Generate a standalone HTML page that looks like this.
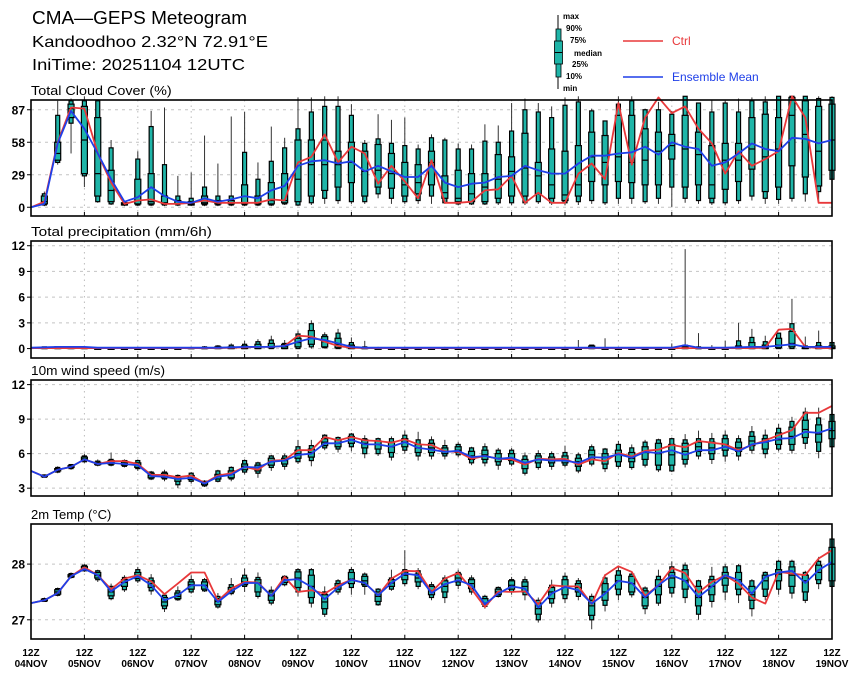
<!DOCTYPE html>
<html><head><meta charset="utf-8"><style>
html,body{margin:0;padding:0;background:#fff;}
svg{display:block;font-family:"Liberation Sans",sans-serif;}
</style></head><body>
<svg id="chart" width="860" height="678" viewBox="0 0 860 678">
<text x="32" y="24" font-size="18" textLength="215" lengthAdjust="spacingAndGlyphs">CMA—GEPS Meteogram</text>
<text x="32" y="47" font-size="16" textLength="236" lengthAdjust="spacingAndGlyphs">Kandoodhoo 2.32°N 72.91°E</text>
<text x="32" y="70" font-size="16" textLength="213" lengthAdjust="spacingAndGlyphs">IniTime: 20251104 12UTC</text>
<g id="legend">
<line x1="558" y1="15" x2="558" y2="89" stroke="#000" stroke-width="1"/>
<rect x="556" y="29" width="5" height="48" fill="#1fb5a8" stroke="#000" stroke-width="0.8"/>
<rect x="554.5" y="41" width="8" height="23" fill="#1fb5a8" stroke="#000" stroke-width="0.8"/>
<line x1="554.5" y1="52.5" x2="562.5" y2="52.5" stroke="#000"/>
<g font-size="8" font-weight="bold">
<text x="563" y="19">max</text><text x="566" y="31">90%</text><text x="570" y="43">75%</text><text x="574" y="56">median</text><text x="572" y="67">25%</text><text x="566" y="79">10%</text><text x="563" y="91">min</text>
</g>
<line x1="623" y1="41" x2="663" y2="41" stroke="#e8383a" stroke-width="1.5"/>
<text x="672" y="45" font-size="12" fill="#e8383a">Ctrl</text>
<line x1="623" y1="77" x2="663" y2="77" stroke="#1f3fe8" stroke-width="1.5"/>
<text x="672" y="81" font-size="12" fill="#1f3fe8">Ensemble Mean</text>
</g>
</svg>
<script>
const dayLabels = ["04NOV","05NOV","06NOV","07NOV","08NOV","09NOV","10NOV","11NOV","12NOV","13NOV","14NOV","15NOV","16NOV","17NOV","18NOV","19NOV"];
const cloudTicks = [0,29,58,87];
const precipTicks = [0,3,6,9,12];
const windTicks = [3,6,9,12];
const tempTicks = [27,28];

const cloudCtrl = [0,5,58,89,88,48,22,3,6,7,3,3,4,6,4,4,4,4,7,6,40,45,65,40,54,48,21,37,23,8,42,4,4,5,15,16,28,4,13,4,4,30,39,25,93,38,80,98,84,90,70,57,30,50,37,43,50,99,80,4,4];
const cloudMean = [0,3,57,86,70,48,25,5,9,18,10,5,4,8,5,7,10,8,15,19,37,41,42,39,41,32,37,32,27,27,37,22,18,21,22,27,28,37,33,30,30,39,46,46,48,49,54,47,58,54,52,37,40,48,57,52,50,62,61,57,60];
const cloudBoxes = [null,
[1,2,3,5,10,12,14],[38,40,42,48,58,82,95],[48,75,80,88,92,95,97],[18,28,30,60,90,95,99],[4,5,10,30,80,95,96],
[2,3,5,15,33,53,60],[1,2,2,3,4,4,5],[1,2,3,6,25,43,50],[1,2,3,5,30,72,86],[1,2,3,4,10,38,89],
[1,2,3,3,6,10,28],[1,2,2,3,5,8,31],[1,2,3,4,10,18,64],[1,2,3,4,6,10,39],[1,2,3,4,6,10,81],
[1,2,3,4,20,49,85],[1,2,3,4,10,25,40],[1,2,3,6,22,41,72],[2,3,4,6,30,53,62],[1,2,5,25,60,70,98],
[2,4,10,38,60,85,98],[3,8,15,38,60,90,99],[3,6,18,38,50,90,99],[3,5,22,40,58,82,92],[3,5,10,32,50,57,60],
[8,12,18,33,56,61,83],[3,8,17,30,48,57,78],[3,5,10,20,40,55,80],[3,6,12,22,38,52,56],[3,10,20,40,50,62,65],
[3,4,8,13,28,60,62],[2,3,5,8,33,52,57],[2,3,5,12,30,52,56],[2,3,5,18,30,59,74],[2,4,8,25,47,58,73],
[2,4,10,32,45,68,93],[2,4,10,35,66,87,97],[3,5,12,28,40,85,93],[2,4,8,20,52,80,90],[2,4,6,11,50,91,98],
[2,5,10,20,55,94,99],[3,6,23,45,67,86,88],[2,4,20,40,64,77,77],[3,8,23,45,82,92,99],[3,8,22,40,82,95,99],
[3,5,20,42,70,87,88],[3,8,20,50,67,87,94],[0,18,43,55,65,83,86],[4,8,18,52,82,99,99],[3,6,20,47,67,93,93],
[2,4,8,20,55,85,96],[2,4,16,42,57,93,95],[3,6,23,42,57,85,97],[6,10,34,52,80,95,98],[3,8,14,45,83,94,99],
[3,7,18,52,80,99,99],[5,8,37,82,98,99,99],[5,12,27,65,95,99,99],[5,14,19,50,90,97,99],[20,25,33,60,92,98,99]];

const precipCtrl = [0.05,0.05,0.05,0.05,0.05,0.05,0.05,0.05,0.05,0.05,0.05,0.05,0.05,0.05,0.05,0.1,0.15,0.2,0.2,0.3,1.5,1.4,0.8,0.3,0.1,0.05,0.05,0.05,0.05,0.05,0.05,0.05,0.05,0.05,0.05,0.05,0.05,0.05,0.05,0.05,0.05,0.05,0.05,0.05,0.05,0.05,0.05,0.05,0.05,0.05,0.05,0.05,0.05,0.05,0.05,0.1,2.2,2.3,0.2,0.05,0.05];
const precipMean = [0.1,0.15,0.2,0.2,0.2,0.1,0.1,0.1,0.1,0.1,0.1,0.1,0.1,0.1,0.1,0.15,0.2,0.2,0.2,0.3,0.8,1.2,1.0,0.6,0.2,0.1,0.1,0.1,0.1,0.1,0.1,0.1,0.1,0.1,0.1,0.1,0.1,0.1,0.1,0.1,0.1,0.1,0.1,0.1,0.1,0.1,0.1,0.1,0.1,0.4,0.1,0.1,0.1,0.15,0.2,0.2,0.35,0.5,0.2,0.2,0.2];
const precipBoxes = [null,
[0,0,0,0.1,0.1,0.2,0.2],[0,0,0,0.1,0.2,0.2,0.3],[0,0,0,0.1,0.1,0.2,0.2],[0,0,0,0.1,0.1,0.1,0.2],[0,0,0,0,0,0.1,0.1],
[0,0,0,0,0,0,0.1],[0,0,0,0,0,0,0.1],[0,0,0,0,0,0,0.1],[0,0,0,0,0,0,0.1],[0,0,0,0,0,0,0.1],
[0,0,0,0,0,0.1,0.1],[0,0,0,0,0.1,0.1,0.2],[0,0,0,0,0.1,0.2,0.3],[0,0,0,0.1,0.2,0.3,0.4],[0,0,0,0.1,0.2,0.4,0.6],
[0,0,0,0.1,0.3,0.5,0.9],[0,0,0,0.2,0.5,0.8,1.1],[0,0,0.1,0.2,0.6,1.0,1.5],[0,0,0,0.2,0.5,0.6,1.0],[0,0,0.2,0.7,1.2,1.7,2.1],
[0,0.2,0.5,1.3,2.1,2.9,3.3],[0,0.1,0.2,0.8,1.4,1.6,1.9],[0,0,0.1,0.5,1.2,1.8,2.3],[0,0,0,0.1,0.4,0.7,1.3],[0,0,0,0,0.1,0.2,0.9],
[0,0,0,0,0,0.1,0.2],[0,0,0,0,0,0,0.1],[0,0,0,0,0,0,0.1],[0,0,0,0,0,0,0.1],[0,0,0,0,0,0,0.1],
[0,0,0,0,0,0,0.2],[0,0,0,0,0,0,0.1],[0,0,0,0,0,0,0.1],[0,0,0,0,0,0,0.1],[0,0,0,0,0,0,0.1],
[0,0,0,0,0,0,0.1],[0,0,0,0,0,0,0.1],[0,0,0,0,0,0,0.1],[0,0,0,0,0,0,0.1],[0,0,0,0,0,0,0.1],
[0,0,0,0,0,0.1,1.0],[0,0,0,0.1,0.3,0.4,0.4],[0,0,0,0,0,0.1,1.2],[0,0,0,0,0,0,0.1],[0,0,0,0,0,0,0.1],
[0,0,0,0,0,0,0.1],[0,0,0,0,0,0,0.1],[0,0,0,0,0,0.1,0.6],[0,0,0,0.1,0.2,0.4,11.6],[0,0,0,0,0.1,0.2,1.8],
[0,0,0,0,0,0.1,0.4],[0,0,0,0,0,0.1,0.9],[0,0,0,0.1,0.3,0.9,3.0],[0,0,0,0.2,0.7,1.3,2.3],[0,0,0,0.1,0.4,0.8,1.5],
[0,0,0.1,0.4,1.2,1.8,1.8],[0,0,0.2,0.6,2.0,2.9,5.8],[0,0,0,0.1,0.2,0.3,1.4],[0,0,0,0.1,0.3,0.7,2.1],[0,0,0,0.1,0.3,0.7,0.7]];

const windCtrl = [4.5,4.0,4.6,4.85,5.5,5.1,5.35,5.35,5.1,4.15,4.15,3.95,4.1,3.45,4.1,4.3,4.85,4.6,5.4,5.45,6.3,6.3,7.45,7.15,7.45,7.15,7.1,6.95,7.25,6.8,6.75,6.2,6.15,5.55,5.8,5.55,5.5,5.05,5.55,5.5,5.55,5.05,5.5,5.35,6.05,5.75,6.25,6.35,6.75,6.55,7.1,6.95,6.8,6.3,6.75,7.15,7.6,8.05,9.55,9.55,10.15];
const windMean = [4.5,4.0,4.6,4.85,5.5,5.1,5.2,5.1,5.0,4.05,4.0,3.8,3.9,3.4,4.0,4.15,4.85,4.8,5.3,5.4,5.9,6.0,6.9,6.9,7.2,6.8,6.8,6.6,7.0,6.5,6.35,6.15,6.25,5.7,5.8,5.55,5.65,5.2,5.5,5.4,5.4,5.2,5.7,5.65,5.95,5.65,6.15,6.05,6.3,5.9,6.3,6.3,6.6,6.2,6.8,7.0,7.3,7.35,7.9,7.8,8.2];
const windBoxes = [null,
[3.9,3.95,4.0,4.05,4.1,4.15,4.2],[4.3,4.4,4.5,4.6,4.7,4.8,4.9],[4.6,4.7,4.8,4.85,4.95,5.05,5.1],[5.2,5.3,5.4,5.55,5.7,5.8,6.0],[4.9,5.0,5.05,5.15,5.25,5.35,5.5],
[4.9,5.0,5.1,5.3,5.4,5.5,6.1],[4.8,4.9,5.0,5.2,5.35,5.4,5.5],[4.5,4.7,4.8,5.0,5.2,5.4,5.5],[3.7,3.8,3.9,4.1,4.3,4.4,4.5],[3.6,3.8,3.9,4.1,4.3,4.4,4.6],
[3.0,3.3,3.6,3.8,4.0,4.1,4.2],[3.4,3.6,3.75,3.9,4.1,4.3,4.4],[3.1,3.2,3.3,3.45,3.55,3.6,3.7],[3.5,3.6,3.8,4.0,4.2,4.5,4.6],[3.6,3.8,3.9,4.2,4.5,4.8,4.9],
[4.2,4.4,4.6,4.9,5.1,5.4,5.5],[3.9,4.3,4.5,4.8,5.0,5.2,5.3],[4.5,4.8,5.0,5.3,5.6,5.8,5.9],[4.6,4.9,5.1,5.4,5.6,5.8,6.0],[5.1,5.3,5.6,6.0,6.3,6.6,7.2],
[4.9,5.4,5.7,6.1,6.4,6.7,7.2],[6.3,6.5,6.7,7.0,7.3,7.6,7.7],[6.1,6.4,6.6,6.9,7.2,7.4,7.5],[6.2,6.6,6.9,7.2,7.5,7.7,7.8],[5.6,6.0,6.5,6.9,7.2,7.3,7.6],
[5.8,6.0,6.4,6.8,7.1,7.3,7.4],[5.4,5.7,6.1,6.6,7.0,7.3,7.5],[6.0,6.3,6.6,7.0,7.3,7.6,8.0],[5.4,5.8,6.1,6.5,6.8,7.2,7.9],[5.5,5.8,6.1,6.5,6.9,7.2,7.5],
[5.5,5.8,6.0,6.2,6.5,6.7,7.2],[5.7,5.9,6.1,6.3,6.6,6.8,7.0],[5.0,5.2,5.5,5.8,6.2,6.5,6.6],[4.9,5.2,5.5,5.9,6.3,6.6,6.9],[4.6,5.0,5.3,5.6,6.0,6.3,6.5],
[4.9,5.1,5.4,5.6,6.0,6.3,6.5],[4.1,4.3,4.7,5.1,5.5,5.8,6.1],[4.6,4.8,5.2,5.5,5.8,6.0,6.3],[4.6,4.9,5.2,5.4,5.7,6.0,6.2],[4.8,5.0,5.2,5.5,5.8,6.1,6.7],
[4.3,4.5,4.9,5.3,5.6,5.9,6.1],[4.9,5.1,5.5,5.9,6.3,6.6,6.8],[4.4,4.7,5.1,5.7,6.0,6.4,6.5],[4.7,4.9,5.3,6.0,6.3,6.8,7.1],[4.6,4.8,5.3,5.6,6.1,6.5,6.8],
[4.8,5.0,5.5,6.1,6.6,7.0,7.2],[4.4,4.6,5.0,6.0,6.9,7.2,7.3],[4.4,4.5,5.0,5.9,6.8,7.3,7.4],[4.8,5.1,5.5,6.2,6.9,7.2,7.7],[5.5,5.8,6.2,6.6,7.0,7.3,8.0],
[5.1,5.5,6.0,6.5,7.0,7.3,7.8],[5.3,5.8,6.3,6.8,7.3,7.6,8.0],[5.4,5.8,6.2,6.5,7.0,7.3,7.6],[6.0,6.3,6.7,7.1,7.5,7.9,8.4],[5.6,6.0,6.4,7.0,7.3,7.6,8.1],
[6.2,6.4,6.8,7.2,7.8,8.2,8.6],[6.0,6.3,6.8,7.5,8.3,8.8,9.2],[6.4,6.9,7.4,8.1,8.9,9.6,10.0],[5.6,6.2,7.0,7.7,8.5,9.1,10.0],[6.2,6.6,7.3,8.0,8.8,9.4,10.1]];

const tempCtrl = [27.3,27.35,27.48,27.78,27.94,27.8,27.55,27.74,27.8,27.69,27.46,27.65,27.85,27.85,27.34,27.56,27.68,27.67,27.43,27.77,27.5,27.53,27.47,27.62,27.72,27.66,27.44,27.74,27.88,27.87,27.5,27.74,27.84,27.55,27.23,27.51,27.5,27.51,27.28,27.62,27.6,27.6,27.28,27.8,27.96,27.86,27.43,27.62,27.93,27.84,27.49,27.68,27.8,27.65,27.4,27.29,27.86,27.83,27.8,28.1,28.25];
const tempMean = [27.3,27.35,27.48,27.78,27.91,27.8,27.51,27.68,27.78,27.62,27.35,27.44,27.62,27.62,27.32,27.51,27.66,27.66,27.43,27.71,27.73,27.59,27.37,27.58,27.72,27.66,27.44,27.66,27.83,27.8,27.48,27.64,27.71,27.62,27.28,27.47,27.6,27.56,27.22,27.47,27.59,27.53,27.29,27.47,27.7,27.66,27.4,27.62,27.8,27.7,27.41,27.6,27.8,27.71,27.47,27.77,27.85,27.88,27.66,27.89,28.04];
const tempBoxes = [null,
[27.32,27.33,27.34,27.35,27.37,27.38,27.4],[27.42,27.44,27.46,27.5,27.54,27.56,27.58],[27.74,27.76,27.77,27.79,27.81,27.83,27.85],[27.86,27.88,27.9,27.93,27.96,27.98,28.0],[27.68,27.72,27.75,27.8,27.85,27.88,27.9],
[27.35,27.38,27.43,27.5,27.57,27.6,27.65],[27.5,27.54,27.6,27.67,27.72,27.76,27.8],[27.66,27.7,27.74,27.8,27.85,27.9,27.95],[27.45,27.52,27.58,27.65,27.7,27.75,27.82],[27.14,27.2,27.25,27.32,27.4,27.44,27.47],
[27.34,27.36,27.38,27.42,27.48,27.52,27.6],[27.47,27.5,27.55,27.63,27.68,27.72,27.8],[27.5,27.52,27.55,27.62,27.68,27.72,27.75],[27.2,27.23,27.27,27.33,27.38,27.42,27.48],[27.44,27.47,27.5,27.53,27.58,27.63,27.75],
[27.5,27.6,27.63,27.68,27.75,27.8,27.92],[27.38,27.42,27.5,27.66,27.72,27.76,27.85],[27.26,27.3,27.35,27.43,27.5,27.53,27.6],[27.6,27.63,27.67,27.72,27.76,27.78,27.8],[27.42,27.5,27.58,27.75,27.86,27.9,27.93],
[27.22,27.3,27.4,27.6,27.8,27.9,27.93],[27.05,27.1,27.2,27.32,27.45,27.5,27.6],[27.45,27.5,27.55,27.6,27.65,27.7,27.73],[27.45,27.58,27.65,27.73,27.85,27.9,27.95],[27.45,27.6,27.63,27.7,27.78,27.82,27.85],
[27.25,27.27,27.33,27.42,27.5,27.55,27.57],[27.52,27.55,27.6,27.66,27.72,27.75,27.9],[27.6,27.65,27.72,27.8,27.86,27.9,28.25],[27.55,27.6,27.68,27.75,27.82,27.88,27.93],[27.35,27.4,27.45,27.52,27.6,27.63,27.68],
[27.3,27.4,27.5,27.6,27.7,27.75,27.8],[27.55,27.62,27.68,27.75,27.82,27.85,27.9],[27.45,27.5,27.56,27.65,27.72,27.75,27.8],[27.2,27.24,27.28,27.3,27.38,27.42,27.45],[27.4,27.42,27.45,27.5,27.55,27.58,27.6],
[27.45,27.5,27.55,27.62,27.7,27.72,27.77],[27.35,27.45,27.5,27.6,27.68,27.72,27.78],[26.95,27.0,27.1,27.2,27.3,27.35,27.4],[27.22,27.3,27.38,27.5,27.58,27.62,27.72],[27.3,27.38,27.45,27.6,27.72,27.78,27.85],
[27.35,27.42,27.5,27.58,27.65,27.7,27.75],[26.83,27.0,27.08,27.25,27.35,27.42,27.47],[27.15,27.26,27.35,27.5,27.65,27.75,27.82],[27.35,27.45,27.55,27.7,27.8,27.88,27.95],[27.4,27.45,27.5,27.65,27.78,27.82,27.85],
[27.1,27.2,27.25,27.4,27.52,27.57,27.6],[27.25,27.3,27.45,27.6,27.72,27.78,27.9],[27.4,27.48,27.58,27.75,27.85,27.95,28.05],[27.3,27.4,27.55,27.7,27.9,27.98,28.03],[27.0,27.1,27.25,27.4,27.6,27.7,27.72],
[27.22,27.33,27.45,27.6,27.72,27.78,27.95],[27.35,27.5,27.62,27.75,27.85,27.95,28.0],[27.3,27.45,27.55,27.72,27.85,27.97,28.0],[27.06,27.2,27.35,27.45,27.6,27.7,27.73],[27.35,27.42,27.55,27.7,27.8,27.85,27.87],
[27.45,27.55,27.7,27.82,27.9,28.05,28.08],[27.38,27.48,27.6,27.8,27.95,28.05,28.08],[27.3,27.35,27.5,27.7,27.8,27.85,27.88],[27.55,27.65,27.72,27.85,27.98,28.05,28.13],[27.55,27.6,27.7,28.0,28.3,28.45,28.5]];

const NS = "http://www.w3.org/2000/svg";
const svg = document.getElementById("chart");
const X0 = 31, X1 = 832, NSTEP = 60;
function xScale(i){ return X0 + (X1 - X0) * i / NSTEP; }
function mk(tag, attrs, parent){
  const e = document.createElementNS(NS, tag);
  for (const k in attrs) e.setAttribute(k, attrs[k]);
  (parent || svg).appendChild(e);
  return e;
}

const panels = [
  {key:"cloud", title:"Total Cloud Cover (%)", top:100, bottom:216, vTop:95.7, vBot:-7.8, ticks:cloudTicks, ctrl:cloudCtrl, mean:cloudMean, boxes:cloudBoxes, hi:100, lo:0},
  {key:"precip", title:"Total precipitation (mm/6h)", top:241, bottom:358, vTop:12.55, vBot:-1.1, ticks:precipTicks, ctrl:precipCtrl, mean:precipMean, boxes:precipBoxes, hi:12.5, lo:0},
  {key:"wind", title:"10m wind speed (m/s)", top:380, bottom:496, vTop:12.4, vBot:2.32, ticks:windTicks, ctrl:windCtrl, mean:windMean, boxes:windBoxes, hi:12.4, lo:2.3},
  {key:"temp", title:"2m Temp (°C)", top:524, bottom:639, vTop:28.72, vBot:26.655, ticks:tempTicks, ctrl:tempCtrl, mean:tempMean, boxes:tempBoxes, hi:28.7, lo:26.66}
];

panels.forEach(p => {
  const g = mk("g", {});
  
  
  const yScale = v => p.bottom - (v - p.vBot) * (p.bottom - p.top) / (p.vTop - p.vBot);
  const clampV = v => Math.max(p.lo, Math.min(p.hi, v));
  const t = mk("text", {x:31, y:p.top - 5, "font-size":13, textLength: p.title.length * 6.7, lengthAdjust:"spacingAndGlyphs"}, g);
  t.textContent = p.title;
  
  
  for (let d = 1; d < 15; d++){
    const gl = mk("line", {x1:xScale(d*4), x2:xScale(d*4), y1:p.top, y2:p.bottom, stroke:"#bbb", "stroke-width":1, "stroke-dasharray":"1.5,4"}, g);
    
    
  }
  p.ticks.forEach(v => {
    const y = yScale(v);
    const hl = mk("line", {x1:X0, x2:X1, y1:y, y2:y, stroke:"#c4c4c4", "stroke-width":1, "stroke-dasharray":"3,4"}, g);
    
    
    mk("line", {x1:X0-4, x2:X0, y1:y, y2:y, stroke:"#000", "stroke-width":1}, g);
    const tl = mk("text", {x:25, y:y+4.5, "font-size":12, "font-weight":"bold", "text-anchor":"end"}, g);
    tl.textContent = String(v);
    
    
  });
  p.boxes.forEach((b, i) => {
    if (!b) return;
    const x = xScale(i);
    const bg = mk("g", {}, g);
    
    
    const yv = b.map(v => yScale(clampV(v)));
    mk("line", {x1:x, x2:x, y1:yv[6], y2:yv[0], stroke:"#333", "stroke-width":1}, bg);
    mk("rect", {x:x-2, y:yv[5], width:4, height:Math.max(0.8, yv[1]-yv[5]), fill:"#1fb5a8", stroke:"#000", "stroke-width":1.2}, bg);
    mk("rect", {x:x-3, y:yv[4], width:6, height:Math.max(0.8, yv[2]-yv[4]), fill:"#1fb5a8", stroke:"#000", "stroke-width":1.2}, bg);
    mk("line", {x1:x-3, x2:x+3, y1:yv[3], y2:yv[3], stroke:"#000", "stroke-width":1.2}, bg);
  });
  const ptsC = p.ctrl.map((v,i) => xScale(i).toFixed(1) + "," + yScale(clampV(v)).toFixed(1)).join(" ");
  const lc = mk("polyline", {points:ptsC, fill:"none", stroke:"#e8383a", "stroke-width":1.8, "stroke-linejoin":"round"}, g);
  
  
  const ptsM = p.mean.map((v,i) => xScale(i).toFixed(1) + "," + yScale(clampV(v)).toFixed(1)).join(" ");
  const lm = mk("polyline", {points:ptsM, fill:"none", stroke:"#1f3fe8", "stroke-width":1.8, "stroke-linejoin":"round"}, g);
  
  
  const fr = mk("rect", {x:X0, y:p.top, width:X1-X0, height:p.bottom-p.top, fill:"none", stroke:"#000", "stroke-width":1.6}, g);
  
  
  for (let d = 0; d <= 15; d++){
    mk("line", {x1:xScale(d*4), x2:xScale(d*4), y1:p.bottom, y2:p.bottom-4, stroke:"#000"}, g);
  }
});

dayLabels.forEach((lab, d) => {
  const x = xScale(d*4);
  const t1 = mk("text", {x:x, y:656, "font-size":10, "font-weight":"bold", "text-anchor":"middle"});
  t1.textContent = "12Z";
  
  
  const t2 = mk("text", {x:x, y:667, "font-size":10, "font-weight":"bold", "text-anchor":"middle"});
  t2.textContent = lab;
  
  
});
</script>
</body></html>
